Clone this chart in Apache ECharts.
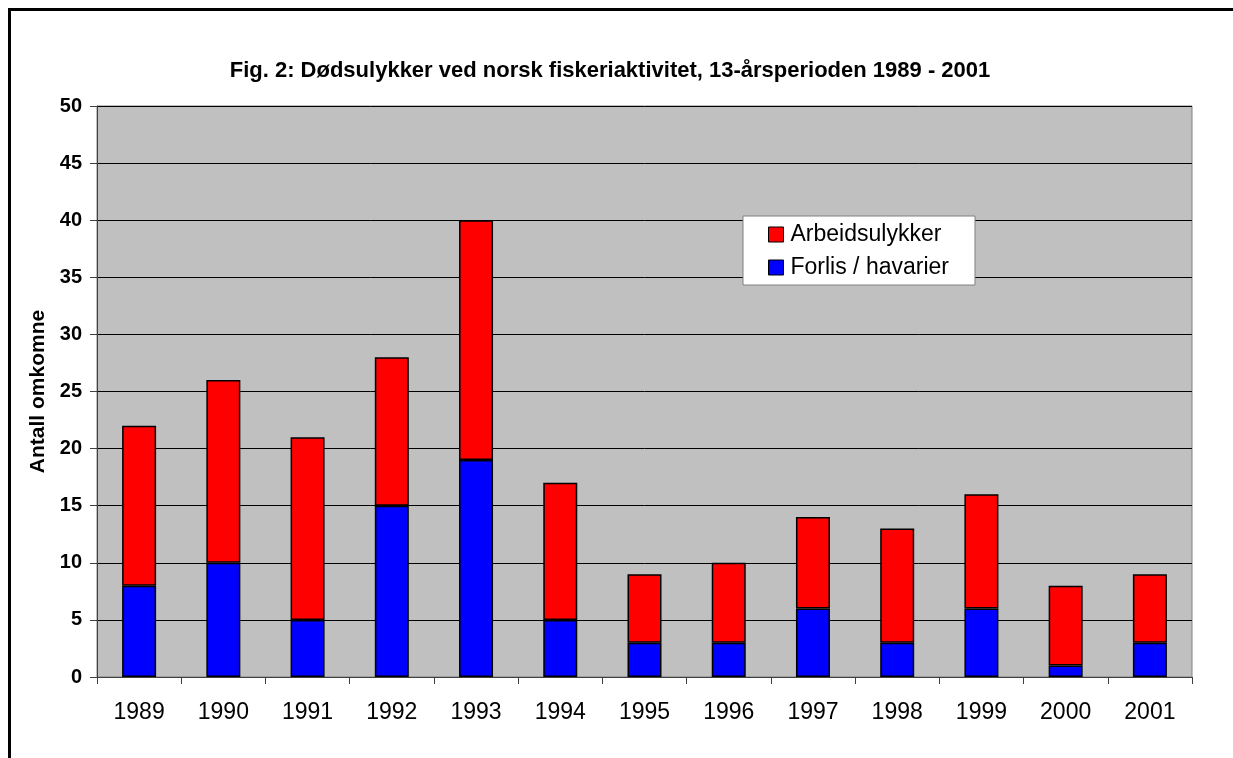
<!DOCTYPE html>
<html>
<head>
<meta charset="utf-8">
<script src="https://cdn.jsdelivr.net/npm/echarts@6/dist/echarts.min.js"></script>
<style>
  html, body { margin: 0; padding: 0; background: #fff; overflow: hidden; }
  #frame { position: absolute; left: 8px; top: 8px; width: 1240px; height: 780px; border: 3px solid #000; }
  #chart { position: absolute; left: 0; top: 0; width: 1233px; height: 758px; }
</style>
</head>
<body>
<div id="frame"></div>
<div id="chart"></div>
<script>
// år og antall omkomne
const years = ['1989', '1990', '1991', '1992', '1993', '1994', '1995', '1996', '1997', '1998', '1999', '2000', '2001'];
const forlis = [8, 10, 5, 15, 19, 5, 3, 3, 6, 3, 6, 1, 3];
const arbeid = [14, 16, 16, 13, 21, 12, 6, 7, 8, 10, 10, 7, 6];
const yTicks = { min: 0, max: 50, interval: 5 };

const chart = echarts.init(document.getElementById('chart'));
const font = 'Arial, "Liberation Sans", sans-serif';

chart.setOption({
  animation: false,
  title: {
    text: 'Fig. 2: Dødsulykker ved norsk fiskeriaktivitet, 13-årsperioden 1989 - 2001',
    left: 605, top: 55, textAlign: 'center',
    textStyle: { fontFamily: font, fontSize: 22, fontWeight: 'bold', color: '#000' }
  },
  legend: {
    data: ['Arbeidsulykker', 'Forlis / havarier'],
    orient: 'vertical',
    left: 743, top: 216,
    padding: [7, 26, 6, 25],
    itemWidth: 15, itemHeight: 15, itemGap: 10,
    backgroundColor: '#fff',
    borderColor: '#808080', borderWidth: 1,
    icon: 'rect',
    itemStyle: { borderColor: '#000', borderWidth: 1 },
    textStyle: { fontFamily: font, fontSize: 23, color: '#000', padding: [0, 0, 0, 2] }
  },
  grid: {
    left: 97, top: 106, right: 41, bottom: 81,
    show: true, backgroundColor: '#C0C0C0', borderColor: '#808080', borderWidth: 1
  },
  xAxis: {
    type: 'category',
    data: years,
    axisLine: { lineStyle: { color: '#404040', width: 1 } },
    axisTick: { show: true, length: 7, lineStyle: { color: '#404040' } },
    axisLabel: { margin: 24, fontFamily: font, fontSize: 23, color: '#000' },
    splitLine: { show: false }
  },
  yAxis: {
    type: 'value',
    min: yTicks.min, max: yTicks.max, interval: yTicks.interval,
    name: 'Antall omkomne',
    nameLocation: 'middle', nameGap: 48,
    nameTextStyle: { fontFamily: font, fontSize: 21, fontWeight: 'bold', color: '#000' },
    axisLine: { show: true, lineStyle: { color: '#404040', width: 1 } },
    axisTick: { show: true, length: 7, lineStyle: { color: '#404040' } },
    axisLabel: { margin: 15, fontFamily: font, fontSize: 20, fontWeight: 'bold', color: '#000' },
    splitLine: { lineStyle: { color: '#000', width: 1 } }
  },
  series: [
    {
      name: 'Forlis / havarier', type: 'bar', stack: 'tot', barWidth: 34,
      data: forlis,
      itemStyle: { color: '#0000FF', borderColor: '#000', borderWidth: 1.5 }
    },
    {
      name: 'Arbeidsulykker', type: 'bar', stack: 'tot', barWidth: 34,
      data: arbeid,
      itemStyle: { color: '#FF0000', borderColor: '#000', borderWidth: 1.5 }
    }
  ]
});
</script>
</body>
</html>
